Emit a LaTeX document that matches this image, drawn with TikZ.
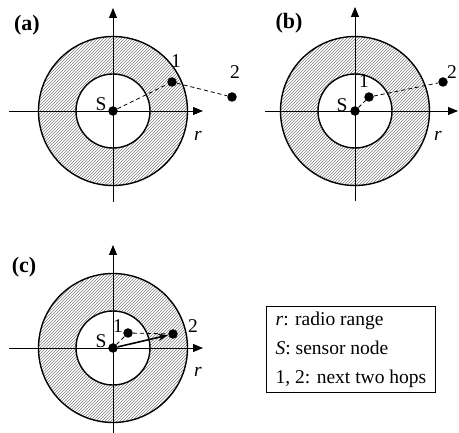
\documentclass[tikz,border=0pt]{standalone}
\usepackage{fontspec}
\setmainfont{Liberation Serif}
\usetikzlibrary{arrows.meta,patterns}

\begin{document}
\begin{tikzpicture}[x=1pt, y=-1pt,
  lbl/.style={inner sep=0pt, font=\fontsize{19.5}{29}\selectfont},
  tag/.style={inner sep=0pt, font=\fontsize{22}{26}\selectfont\bfseries},
  dot/.style={circle, fill=black, inner sep=0pt, minimum size=9.5pt},
  ring/.style={fill=black!10, pattern=north east lines, pattern color=black!50, even odd rule},
  rim/.style={line width=1.4pt},
  axis/.style={line width=0.9pt, -{Triangle[length=10pt,width=8pt]}},
  hop/.style={line width=0.8pt, dash pattern=on 4pt off 3pt},
  route/.style={line width=1.6pt, -{Stealth[length=10pt,width=7pt]}},
  legend/.style={draw, line width=0.9pt, align=left, inner xsep=0pt,
    minimum width=169pt, minimum height=86pt, font=\fontsize{19.5}{29}\selectfont}]
\useasboundingbox (0,0) rectangle (459,433);

\coordinate (aO) at (113,111);
\path[ring] (aO) circle[radius=74.5] (aO) circle[radius=37];
\draw[rim] (aO) circle[radius=74.5];
\draw[rim] (aO) circle[radius=37];
\coordinate (aL) at (9,111);
\coordinate (aR) at (203,111);
\coordinate (aB) at (113,202);
\coordinate (aT) at (113,8);
\draw[axis] (aL) -- (aR);
\draw[axis] (aB) -- (aT);
\node[dot] (aS) at (aO) {};
\node[dot] (a1) at (172,82) {};
\node[dot] (a2) at (232,97) {};
\draw[hop] (aS) -- (a1) -- (a2);
\node[tag] (atag) at (27,25) {(a)};
\node[lbl] (aSl) at (101,104) {S};
\node[lbl] (a1l) at (176,61) {1};
\node[lbl] (a2l) at (235,72) {2};
\node[lbl] (arl) at (198,136) {\textit{r}};

\coordinate (bO) at (355,111);
\path[ring] (bO) circle[radius=74.5] (bO) circle[radius=37];
\draw[rim] (bO) circle[radius=74.5];
\draw[rim] (bO) circle[radius=37];
\coordinate (bL) at (265,111);
\coordinate (bR) at (458,111);
\coordinate (bB) at (355,201);
\coordinate (bT) at (355,7);
\draw[axis] (bL) -- (bR);
\draw[axis] (bB) -- (bT);
\node[dot] (bS) at (bO) {};
\node[dot] (b1) at (369,97) {};
\node[dot] (b2) at (443,82) {};
\draw[hop] (bS) -- (b1) -- (b2);
\node[tag] (btag) at (289,23) {(b)};
\node[lbl] (bSl) at (342,105) {S};
\node[lbl] (b1l) at (364,81) {1};
\node[lbl] (b2l) at (452,72) {2};
\node[lbl] (brl) at (438,136) {\textit{r}};

\coordinate (cO) at (113,348);
\path[ring] (cO) circle[radius=74.5] (cO) circle[radius=37];
\draw[rim] (cO) circle[radius=74.5];
\draw[rim] (cO) circle[radius=37];
\coordinate (cL) at (9,348);
\coordinate (cR) at (203,348);
\coordinate (cB) at (113,433);
\coordinate (cT) at (113,245);
\draw[axis] (cL) -- (cR);
\draw[axis] (cB) -- (cT);
\node[dot] (cS) at (cO) {};
\node[dot] (c1) at (128,333) {};
\node[dot] (c2) at (173,334) {};
\draw[hop] (cS) -- (c1) -- (c2);
\draw[route] (cS) -- (c2);
\node[tag] (ctag) at (24,267) {(c)};
\node[lbl] (cSl) at (101,341) {S};
\node[lbl] (c1l) at (118,326) {1};
\node[lbl] (c2l) at (193,326) {2};
\node[lbl] (crl) at (198,372) {\textit{r}};

\node[legend, anchor=north west] (key) at (266,306)
  {\textit{r}: radio range\\\textit{S}: sensor node\\1, 2: next two hops};
\end{tikzpicture}
\end{document}
